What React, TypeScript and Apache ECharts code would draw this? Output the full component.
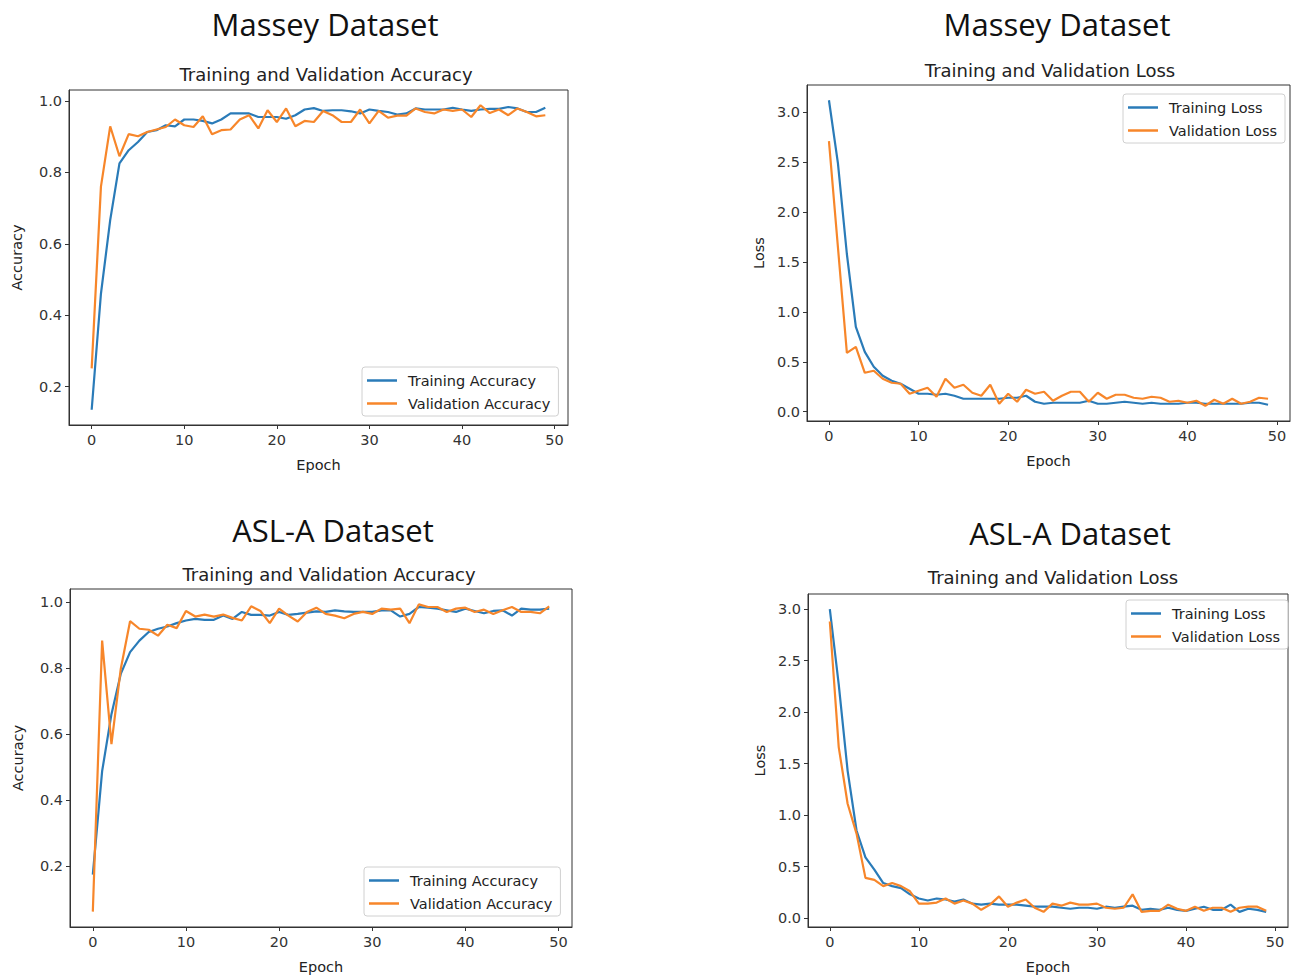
import React, { useEffect, useRef } from "react";
import * as echarts from "echarts";

const epochs: number[] = Array.from({ length: 50 }, (_, i) => i);

const masseyTrainAcc = [0.135, 0.46, 0.666, 0.825, 0.862, 0.885, 0.913, 0.918, 0.932, 0.929, 0.948, 0.948, 0.944, 0.937, 0.948, 0.965, 0.965, 0.965, 0.955, 0.955, 0.955, 0.95, 0.96, 0.976, 0.98, 0.972, 0.974, 0.974, 0.971, 0.965, 0.976, 0.972, 0.969, 0.962, 0.965, 0.979, 0.976, 0.976, 0.976, 0.981, 0.976, 0.972, 0.976, 0.978, 0.978, 0.983, 0.979, 0.969, 0.969, 0.981];
const masseyValAcc = [0.251, 0.76, 0.929, 0.845, 0.907, 0.901, 0.913, 0.92, 0.927, 0.948, 0.932, 0.927, 0.957, 0.907, 0.918, 0.92, 0.948, 0.96, 0.923, 0.974, 0.941, 0.979, 0.929, 0.944, 0.941, 0.972, 0.96, 0.941, 0.941, 0.976, 0.937, 0.972, 0.953, 0.959, 0.959, 0.979, 0.969, 0.965, 0.976, 0.972, 0.976, 0.955, 0.988, 0.966, 0.976, 0.96, 0.979, 0.969, 0.957, 0.96];
const masseyTrainLoss = [3.12, 2.49, 1.58, 0.85, 0.6, 0.45, 0.36, 0.31, 0.28, 0.23, 0.18, 0.18, 0.17, 0.18, 0.16, 0.13, 0.13, 0.13, 0.13, 0.13, 0.14, 0.14, 0.16, 0.1, 0.08, 0.09, 0.09, 0.09, 0.09, 0.11, 0.08, 0.08, 0.09, 0.1, 0.09, 0.08, 0.09, 0.08, 0.08, 0.08, 0.09, 0.09, 0.08, 0.08, 0.08, 0.08, 0.08, 0.09, 0.09, 0.07];
const masseyValLoss = [2.71, 1.65, 0.59, 0.65, 0.39, 0.41, 0.33, 0.29, 0.28, 0.18, 0.21, 0.24, 0.15, 0.33, 0.24, 0.27, 0.19, 0.16, 0.27, 0.08, 0.18, 0.1, 0.22, 0.18, 0.2, 0.11, 0.16, 0.2, 0.2, 0.1, 0.19, 0.13, 0.17, 0.17, 0.14, 0.13, 0.15, 0.14, 0.1, 0.11, 0.09, 0.11, 0.06, 0.12, 0.08, 0.13, 0.08, 0.1, 0.14, 0.13];

const aslTrainAcc = [0.173, 0.487, 0.66, 0.782, 0.848, 0.883, 0.909, 0.919, 0.926, 0.936, 0.944, 0.949, 0.946, 0.946, 0.959, 0.949, 0.97, 0.961, 0.961, 0.959, 0.97, 0.961, 0.964, 0.968, 0.972, 0.97, 0.975, 0.972, 0.97, 0.97, 0.97, 0.975, 0.975, 0.956, 0.964, 0.985, 0.983, 0.98, 0.975, 0.97, 0.98, 0.973, 0.966, 0.973, 0.975, 0.959, 0.98, 0.977, 0.977, 0.98];
const aslValAcc = [0.061, 0.883, 0.569, 0.797, 0.942, 0.919, 0.916, 0.898, 0.931, 0.921, 0.973, 0.956, 0.962, 0.956, 0.962, 0.952, 0.944, 0.987, 0.973, 0.936, 0.98, 0.959, 0.941, 0.97, 0.983, 0.964, 0.959, 0.951, 0.964, 0.97, 0.964, 0.98, 0.977, 0.98, 0.936, 0.993, 0.985, 0.985, 0.97, 0.98, 0.983, 0.97, 0.977, 0.964, 0.975, 0.985, 0.97, 0.97, 0.966, 0.987];
const aslTrainLoss = [3.0, 2.27, 1.43, 0.85, 0.59, 0.47, 0.34, 0.31, 0.29, 0.23, 0.19, 0.17, 0.19, 0.18, 0.16, 0.18, 0.14, 0.13, 0.14, 0.13, 0.13, 0.13, 0.12, 0.11, 0.11, 0.11, 0.1, 0.09, 0.1, 0.1, 0.09, 0.11, 0.1, 0.11, 0.12, 0.08, 0.09, 0.08, 0.1, 0.08, 0.07, 0.09, 0.11, 0.08, 0.08, 0.13, 0.06, 0.09, 0.08, 0.06];
const aslValLoss = [2.88, 1.66, 1.11, 0.82, 0.39, 0.37, 0.31, 0.34, 0.31, 0.26, 0.14, 0.14, 0.15, 0.19, 0.14, 0.17, 0.14, 0.08, 0.13, 0.21, 0.11, 0.15, 0.18, 0.1, 0.06, 0.14, 0.12, 0.15, 0.13, 0.13, 0.14, 0.1, 0.09, 0.1, 0.23, 0.06, 0.07, 0.07, 0.13, 0.09, 0.07, 0.11, 0.07, 0.1, 0.1, 0.06, 0.1, 0.11, 0.11, 0.07];

const xTicks = [0, 10, 20, 30, 40, 50];
const accTicks = [0.2, 0.4, 0.6, 0.8, 1.0];
const lossTicks = [0.0, 0.5, 1.0, 1.5, 2.0, 2.5, 3.0];

const BLUE = "#2a7bb8";
const ORANGE = "#f7862a";
const FONT = "DejaVu Sans";
const TITLE_FONT = "Open Sans";
const SMALL = 14.5;

type Panel = {
  grid: { left: number; top: number; width: number; height: number };
  yTicks: number[];
  yName: string;
  yGap: number;
  train: number[];
  val: number[];
  trainName: string;
  valName: string;
  legend: { left: number; top: number };
};

const panels: Panel[] = [
  {
    grid: { left: 69, top: 90, width: 499, height: 335 },
    yTicks: accTicks, yName: "Accuracy", yGap: 45,
    train: masseyTrainAcc, val: masseyValAcc,
    trainName: "Training Accuracy", valName: "Validation Accuracy",
    legend: { left: 362, top: 367 },
  },
  {
    grid: { left: 807, top: 85, width: 483, height: 336 },
    yTicks: lossTicks, yName: "Loss", yGap: 41,
    train: masseyTrainLoss, val: masseyValLoss,
    trainName: "Training Loss", valName: "Validation Loss",
    legend: { left: 1123, top: 94 },
  },
  {
    grid: { left: 70, top: 589, width: 502, height: 338 },
    yTicks: accTicks, yName: "Accuracy", yGap: 45,
    train: aslTrainAcc, val: aslValAcc,
    trainName: "Training Accuracy", valName: "Validation Accuracy",
    legend: { left: 364, top: 867 },
  },
  {
    grid: { left: 808, top: 594, width: 480, height: 333 },
    yTicks: lossTicks, yName: "Loss", yGap: 41,
    train: aslTrainLoss, val: aslValLoss,
    trainName: "Training Loss", valName: "Validation Loss",
    legend: { left: 1126, top: 600 },
  },
];

function padRange(a: number[], b: number[]) {
  const all = a.concat(b);
  const lo = Math.min(...all);
  const hi = Math.max(...all);
  const m = (hi - lo) * 0.05;
  return { min: lo - m, max: hi + m };
}

export default function App() {
  const ref = useRef<HTMLDivElement>(null);
  useEffect(() => {
    if (!ref.current) return;
    const chart = echarts.init(ref.current, null, { renderer: "svg" });
    const xPad = (epochs[epochs.length - 1] - epochs[0]) * 0.05;

    const grid = panels.map((p) => ({
      ...p.grid,
      show: true,
      borderColor: "#333",
      borderWidth: 1,
      backgroundColor: "transparent",
      containLabel: false,
    }));

    const xAxis = panels.map((p, i) => ({
      type: "value",
      gridIndex: i,
      min: epochs[0] - xPad,
      max: epochs[epochs.length - 1] + xPad,
      name: "Epoch",
      nameLocation: "middle",
      nameGap: 32,
      nameTextStyle: { fontFamily: FONT, fontSize: SMALL, color: "#222" },
      splitLine: { show: false },
      axisLine: { show: true, onZero: false, lineStyle: { color: "#333" } },
      axisTick: { show: true, customValues: xTicks, length: 4, lineStyle: { color: "#333" } },
      axisLabel: {
        customValues: xTicks,
        fontFamily: FONT,
        fontSize: SMALL,
        color: "#333",
        margin: 7,
        formatter: (v: number) => String(Math.round(v)),
      },
    }));

    const yAxis = panels.map((p, i) => {
      const r = padRange(p.train, p.val);
      return {
        type: "value",
        gridIndex: i,
        min: r.min,
        max: r.max,
        name: p.yName,
        nameLocation: "middle",
        nameRotate: 90,
        nameGap: p.yGap,
        nameTextStyle: { fontFamily: FONT, fontSize: SMALL, color: "#222" },
        splitLine: { show: false },
        axisLine: { show: true, onZero: false, lineStyle: { color: "#333" } },
        axisTick: { show: true, customValues: p.yTicks, length: 4, lineStyle: { color: "#333" } },
        axisLabel: {
          customValues: p.yTicks,
          fontFamily: FONT,
          fontSize: SMALL,
          color: "#333",
          margin: 7,
          formatter: (v: number) => v.toFixed(1),
        },
      };
    });

    const series: any[] = [];
    panels.forEach((p, i) => {
      series.push({
        type: "line",
        name: p.trainName,
        xAxisIndex: i,
        yAxisIndex: i,
        data: epochs.map((e, k) => [e, p.train[k]]),
        showSymbol: false,
        lineStyle: { color: BLUE, width: 2.2 },
        itemStyle: { color: BLUE },
        z: 2,
      });
      series.push({
        type: "line",
        name: p.valName,
        xAxisIndex: i,
        yAxisIndex: i,
        data: epochs.map((e, k) => [e, p.val[k]]),
        showSymbol: false,
        lineStyle: { color: ORANGE, width: 2.2 },
        itemStyle: { color: ORANGE },
        z: 3,
      });
    });

    const legend = panels.map((p) => ({
      left: p.legend.left,
      top: p.legend.top,
      orient: "vertical",
      data: [p.trainName, p.valName],
      icon: "rect",
      itemWidth: 30,
      itemHeight: 2.5,
      itemGap: 8,
      padding: [6, 8, 5, 5],
      borderColor: "#d0d0d0",
      borderWidth: 1,
      borderRadius: 3,
      backgroundColor: "rgba(255,255,255,0.85)",
      textStyle: { fontFamily: FONT, fontSize: SMALL, color: "#222", padding: [0, 0, 0, 6] },
      selectedMode: false,
    }));

    const bigTitle = (text: string, x: number, y: number) => ({
      text,
      left: x,
      top: y,
      padding: 0,
      textAlign: "center",
      textStyle: { fontFamily: TITLE_FONT, fontSize: 31, fontWeight: "normal", color: "#111" },
    });
    const subTitle = (text: string, x: number, y: number) => ({
      text,
      left: x,
      top: y,
      padding: 0,
      textAlign: "center",
      textStyle: { fontFamily: FONT, fontSize: 18, fontWeight: "normal", color: "#222" },
    });

    const title = [
      bigTitle("Massey Dataset", 325, 8),
      bigTitle("Massey Dataset", 1057, 8),
      bigTitle("ASL-A Dataset", 333, 514),
      bigTitle("ASL-A Dataset", 1070, 517),
      subTitle("Training and Validation Accuracy", 326, 65),
      subTitle("Training and Validation Loss", 1050, 61),
      subTitle("Training and Validation Accuracy", 329, 565),
      subTitle("Training and Validation Loss", 1053, 568),
    ];

    chart.setOption({
      animation: false,
      backgroundColor: "#ffffff",
      title,
      grid,
      xAxis,
      yAxis,
      legend,
      series,
    });
    return () => chart.dispose();
  }, []);
  return (
    <div
      ref={ref}
      style={{ position: "fixed", left: 0, top: 0, width: 1302, height: 975 }}
    />
  );
}
